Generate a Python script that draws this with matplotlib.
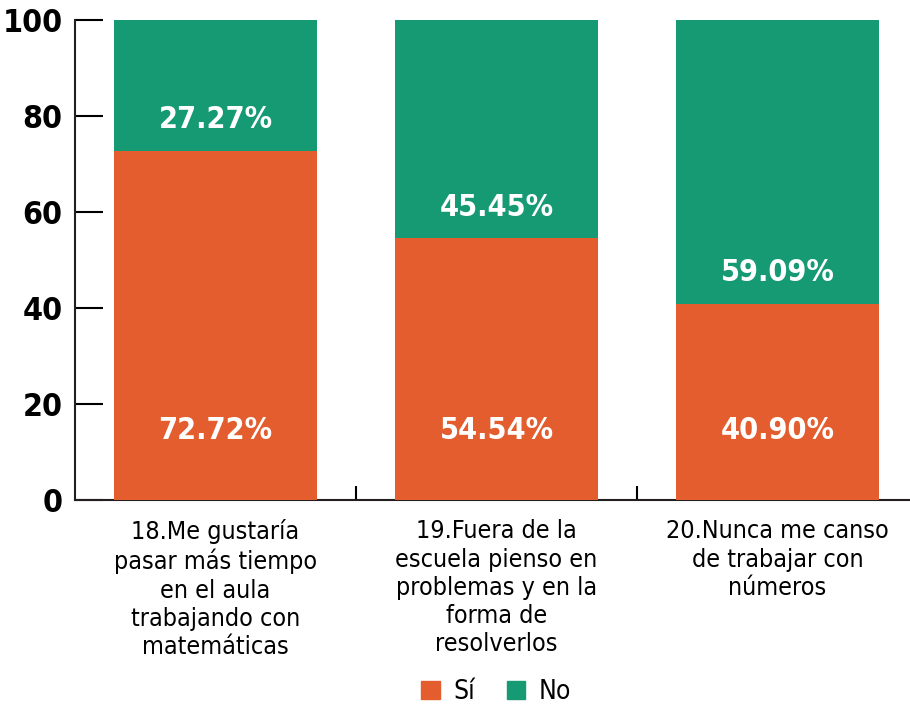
import matplotlib.pyplot as plt
from matplotlib.patches import Patch

plt.rcParams['font.family'] = ['DejaVu Sans']
plt.rcParams['font.stretch'] = 'condensed'

# data
categories = ['18.Me gustaría\npasar más tiempo\nen el aula\ntrabajando con\nmatemáticas',
              '19.Fuera de la\nescuela pienso en\nproblemas y en la\nforma de\nresolverlos',
              '20.Nunca me canso\nde trabajar con\nnúmeros']
si = [72.72, 54.54, 40.90]
no = [27.27, 45.45, 59.09]
si_labels = ['72.72%', '54.54%', '40.90%']
no_labels = ['27.27%', '45.45%', '59.09%']

orange = '#E35D2F'
green = '#169A74'

fig = plt.figure(figsize=(9.10, 7.08), dpi=100)
ax = fig.add_axes([75/910, 208/708, 843/910, 480/708])

x = range(len(categories))
ax.bar(x, si, width=0.72, color=orange, zorder=3)
ax.bar(x, no, width=0.72, bottom=si, color=green, zorder=3)

for i in x:
    ax.text(i, 14.5, si_labels[i], ha='center', va='center', color='white',
            fontsize=22, fontweight='bold', zorder=4)
    ax.text(i, si[i] + 6.5, no_labels[i], ha='center', va='center', color='white',
            fontsize=22, fontweight='bold', zorder=4)

ax.set_xlim(-0.5, 2.5)
ax.set_ylim(0, 100)
ax.set_yticks([0, 20, 40, 60, 80, 100])
ax.tick_params(axis='y', direction='in', length=20, width=1.5, labelsize=23, pad=9)
for lab in ax.get_yticklabels():
    lab.set_fontweight('bold')

ax.set_xticks([0.5, 1.5], minor=True)
ax.set_xticks(list(x))
ax.set_xticklabels(categories, fontsize=18, linespacing=1.22)
ax.tick_params(axis='x', which='major', length=0, pad=14)
ax.tick_params(axis='x', which='minor', direction='in', length=10, width=1.5)

for s in ['top', 'right']:
    ax.spines[s].set_visible(False)
for s in ['left', 'bottom']:
    ax.spines[s].set_linewidth(1.5)
    ax.spines[s].set_color('#231f20')

handles = [Patch(color=orange, label='Sí'), Patch(color=green, label='No')]
fig.legend(handles=handles, loc='center', bbox_to_anchor=(496/910, 1 - 692/708), ncol=2,
           frameon=False, fontsize=19, handlelength=0.7, handleheight=0.7,
           handletextpad=0.5, columnspacing=1.2)

fig.savefig('out.png', dpi=100)
